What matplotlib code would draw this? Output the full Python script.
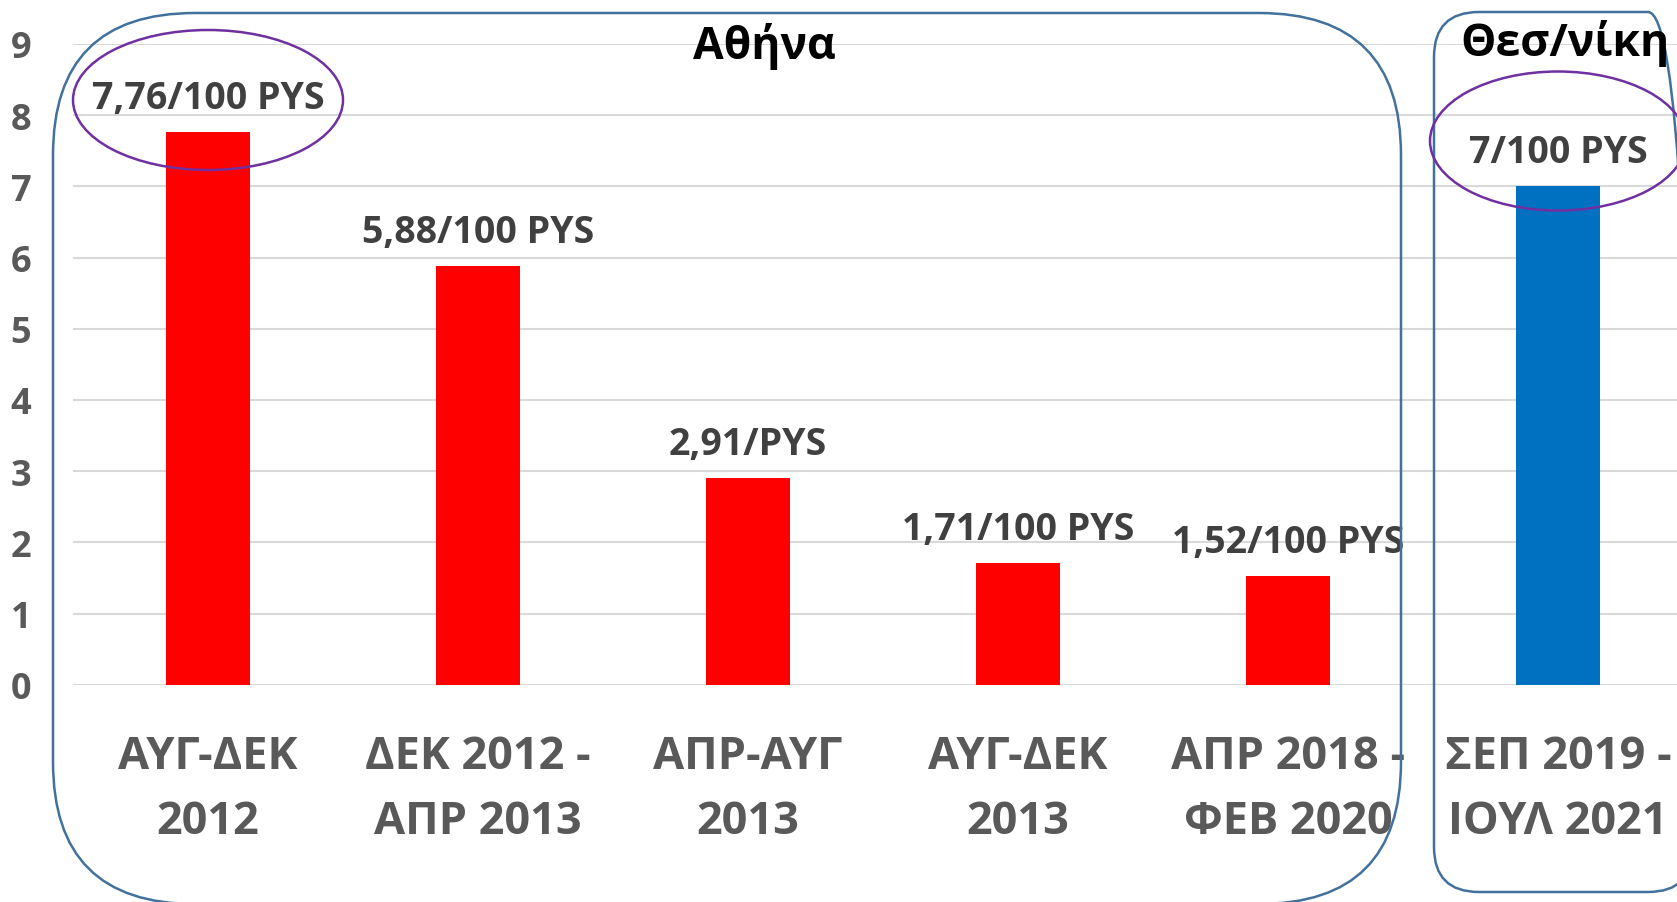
import matplotlib
matplotlib.use("Agg")
from matplotlib import pyplot as plt
from matplotlib.patches import FancyBboxPatch, Ellipse

plt.rcParams['font.family'] = ['Open Sans', 'DejaVu Sans']
plt.rcParams['font.weight'] = 'bold'

# data
periods = ["ΑΥΓ-ΔΕΚ\n2012", "ΔΕΚ 2012 -\nΑΠΡ 2013", "ΑΠΡ-ΑΥΓ\n2013",
           "ΑΥΓ-ΔΕΚ\n2013", "ΑΠΡ 2018 -\nΦΕΒ 2020", "ΣΕΠ 2019 -\nΙΟΥΛ 2021"]
rates = [7.76, 5.88, 2.91, 1.71, 1.52, 7.0]
rate_labels = ["7,76/100 PYS", "5,88/100 PYS", "2,91/PYS",
               "1,71/100 PYS", "1,52/100 PYS", "7/100 PYS"]
cities = ["Αθήνα"] * 5 + ["Θεσ/νίκη"]
city_colors = {"Αθήνα": "#FF0000", "Θεσ/νίκη": "#0070C0"}

W, H, DPI = 1677, 903, 100
fig = plt.figure(figsize=(W / DPI, H / DPI), dpi=DPI)


def px(x, y):
    # pixel position measured from the top-left corner -> inches
    return x / DPI, (H - y) / DPI


ax = fig.add_axes([73 / W, 1 - 685.7 / H, 1604 / W, (685.7 - 45) / H])
x = list(range(len(rates)))
ax.bar(x, rates, width=0.31, color=[city_colors[c] for c in cities], zorder=2)

for xi, v, lab in zip(x, rates, rate_labels):
    ax.annotate(lab, (xi, v), xytext=(0, 24.5), textcoords="offset points",
                ha="center", va="center", fontsize=27, color="#404040",
                fontweight="bold", annotation_clip=False)

ax.set_xlim(-0.5, -0.5 + 1604 / 270)
ax.set_ylim(0, 9)
ax.set_yticks(range(10))
ax.set_xticks(x)
ax.set_xticklabels(periods, fontsize=32.5, color="#595959", fontweight="bold",
                   linespacing=1.58)
for lab in ax.get_xticklabels():
    lab.set_verticalalignment("center")
ax.tick_params(axis="x", length=0, pad=75)
ax.tick_params(axis="y", length=0, pad=30, labelsize=26, labelcolor="#595959")
for s in ax.spines.values():
    s.set_visible(False)
ax.yaxis.grid(True, color="#D9D9D9", lw=1.5, zorder=0)
ax.set_axisbelow(True)

# rounded group boxes
boxes = [(53, 14, 1401, 905, 142), (1434, 13, 1693, 893, 45)]
for x0, y0, x1, y1, r in boxes:
    bx, by = px(x0, y1)
    fig.add_artist(FancyBboxPatch(
        (bx, by), (x1 - x0) / DPI, (y1 - y0) / DPI,
        boxstyle=f"round,pad=0,rounding_size={r / DPI}",
        transform=fig.dpi_scale_trans, fill=False, ec="#41719C", lw=1.8))

fig.text(*px(764, 47), "Αθήνα", transform=fig.dpi_scale_trans,
         ha="center", va="center", fontsize=32, color="black", fontweight="bold")
fig.text(*px(1565, 44), "Θεσ/νίκη", transform=fig.dpi_scale_trans,
         ha="center", va="center", fontsize=32, color="black", fontweight="bold")

# highlight ellipses
for cx, cy, ew, eh in [(208, 101, 270, 140), (1558, 142, 256, 139)]:
    fig.add_artist(Ellipse(px(cx, cy), ew / DPI, eh / DPI,
                           transform=fig.dpi_scale_trans, fill=False,
                           ec="#7030A0", lw=1.8))

fig.savefig("out.png", dpi=DPI)
